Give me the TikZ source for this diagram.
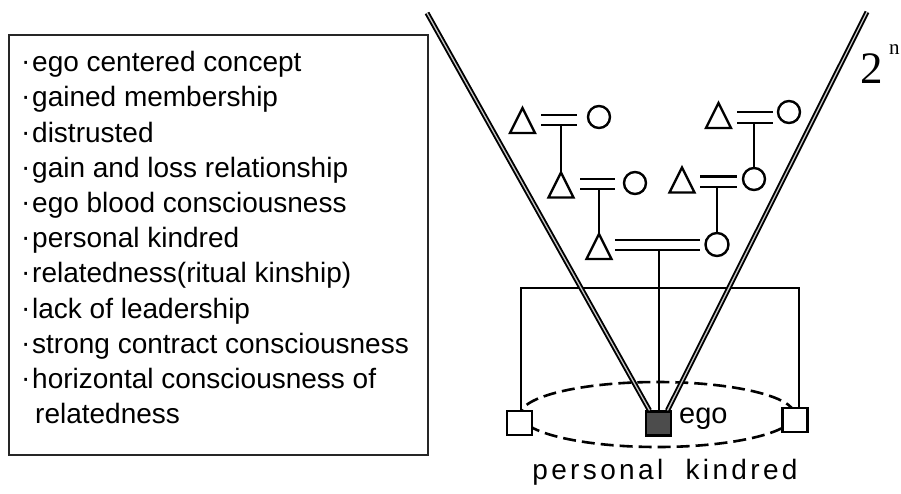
\documentclass[tikz,border=0pt]{standalone}
\usepackage{fontspec}
\setmainfont{Liberation Sans}
\newfontfamily\serifnum{Liberation Serif}
\begin{document}
\begin{tikzpicture}[x=1pt,y=-1pt,
  sym/.style={line width=2.4pt, draw=black},
  thin/.style={line width=2pt, draw=black},
  vline/.style={line width=1.9pt, draw=black, double=gray!45, double distance=1.3pt},
  item/.style={anchor=mid west, inner sep=0pt, font=\fontsize{28}{34}\selectfont},
  bul/.style={anchor=mid west, inner sep=0pt, font=\fontsize{28}{34}\selectfont},
  circ/.style={circle, draw, line width=2.4pt, minimum size=22pt, inner sep=0pt, fill=white},
  sq/.style={rectangle, draw, line width=2.2pt, minimum width=25pt, minimum height=24pt, inner sep=0pt, fill=white},
  egosq/.style={sq, fill=black!70},
  kin/.style={draw, line width=2.6pt, dash pattern=on 13pt off 6pt},
  tri/.pic={\draw[line width=2.4pt, line join=miter] (0,-12.5) coordinate (-apex) -- (12.5,12.5) -- (-12.5,12.5) -- cycle;}
]
\useasboundingbox (0,0) rectangle (901,493);
% list box
\draw[line width=2.8pt, draw=black!85] (9,35) rectangle (428,455);
\foreach \t [count=\i] in {ego centered concept, gained membership, distrusted, gain and loss relationship, ego blood consciousness, personal kindred, relatedness(ritual kinship), lack of leadership, strong contract consciousness, horizontal consciousness of}{
  \node[bul] (b\i) at (21,{69+35.2*(\i-1)-1}) {·};
  \node[item] (l\i) at (32,{69+35.2*(\i-1)}) {\t};
}
\node[item] (l11) at (35,421) {relatedness};

% V lines and 2^n
\coordinate (vl) at (427,13);
\coordinate (vr) at (867,12);
\node[inner sep=0pt, anchor=south west, font=\serifnum\fontsize{45}{45}\selectfont] (two) at (860,84) {2};
\node[inner sep=0pt, anchor=south west, font=\serifnum\fontsize{21}{21}\selectfont] (nn) at (889,55) {n};

% dashed ellipse
\draw[kin] (657.5,414.5) ellipse [x radius=137, y radius=32.5];

% bracket
\coordinate (bl) at (521,288);
\coordinate (br) at (799,288);

% squares
\node[sq] (lsq) at (519.5,423) {};
\node[sq] (rsq) at (795,420) {};
\node[egosq] (ego) at (658.5,423.5) {};
\node[anchor=mid west, inner sep=0pt, font=\fontsize{29}{34}\selectfont] (egot) at (679,421) {ego};
\node[anchor=mid, inner sep=0pt, font=\fontsize{28}{34}\selectfont\addfontfeature{LetterSpace=12}] (pk) at (665,477) {personal\ \ kindred};

\draw[thin] (lsq.north -| bl) -- (bl) -- (br) -- (rsq.north -| br);

% V lines
\draw[vline] (vl) -- ([xshift=-9pt]ego.north);
\draw[vline] (vr) -- ([xshift=9pt]ego.north);

% pedigree symbols
\pic (ta) at (522.5,120.5) {tri};
\node[circ] (ca) at (599,117) {};
\pic (tb) at (561,185) {tri};
\node[circ] (cb) at (635,183) {};
\pic (tc) at (718.5,115.5) {tri};
\node[circ] (cc) at (789,112) {};
\pic (td) at (682,180) {tri};
\node[circ] (cd) at (754,179) {};
\pic (te) at (599,246.5) {tri};
\node[circ, minimum size=23pt] (ce) at (717,244.5) {};

% marriage lines
\draw[sym] (541,115) -- (577,115); \draw[sym] (541,125) -- (577,125);
\draw[sym] (580,179) -- (615,179); \draw[sym] (580,189) -- (615,189);
\draw[sym] (737,112) -- (773,112); \draw[sym] (737,123) -- (773,123);
\draw[sym] (700,176.5) -- (737,176.5); \draw[sym] (700,187) -- (737,187);
\draw[sym] (615,240) -- (700,240); \draw[sym] (615,250) -- (700,250);

% descent lines
\draw[thin] (561,125) -- (tb-apex);
\draw[thin] (599,189) -- (te-apex);
\draw[thin] (754,123) -- (cd.north);
\draw[thin] (717,187) -- (ce.north);
\draw[thin] (ego.north |- 0,250) -- (ego.north);
\end{tikzpicture}
\end{document}
